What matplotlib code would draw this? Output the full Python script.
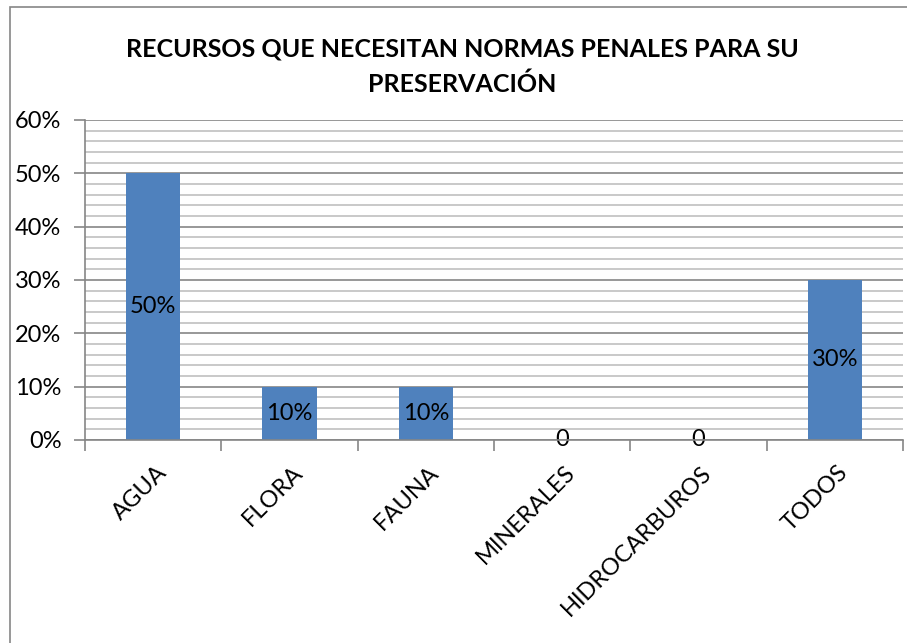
import matplotlib.pyplot as plt
import matplotlib.transforms as mtransforms
from matplotlib.patches import Rectangle
from matplotlib.ticker import MultipleLocator, PercentFormatter

categories = ['AGUA', 'FLORA', 'FAUNA', 'MINERALES', 'HIDROCARBUROS', 'TODOS']
values = [0.50, 0.10, 0.10, 0.0, 0.0, 0.30]
bar_labels = ['50%', '10%', '10%', '0', '0', '30%']
title = 'RECURSOS QUE NECESITAN NORMAS PENALES PARA SU\nPRESERVACIÓN'

plt.rcParams['font.family'] = ['Lato', 'DejaVu Sans']

fig = plt.figure(figsize=(9.07, 6.43), dpi=100)
W, H = 907, 643
FS = 17

# chart frame (only left and top visible in the reference)
fig.patches.append(Rectangle((10 / W, -0.1), 1.2, 1 - 7 / H + 0.1,
                             transform=fig.transFigure, fill=False,
                             edgecolor='#868686', linewidth=1.2))

ax = fig.add_axes([85 / W, 1 - 440 / H, (903 - 85) / W, (440 - 120) / H])

x = list(range(len(categories)))
ax.bar(x, values, width=0.4, color='#4F81BD', zorder=3)

for xi, v, lab in zip(x, values, bar_labels):
    ax.text(xi, v / 2, lab, ha='center', va='center', fontsize=FS,
            color='black', zorder=4)

ax.set_xlim(-0.5, len(categories) - 0.5)
ax.set_ylim(0, 0.6)
ax.yaxis.set_major_locator(MultipleLocator(0.1))
ax.yaxis.set_minor_locator(MultipleLocator(0.02))
ax.yaxis.set_major_formatter(PercentFormatter(1.0, decimals=0))
ax.grid(which='major', axis='y', color='#868686', linewidth=1.2, zorder=0)
ax.grid(which='minor', axis='y', color='#c0c0c0', linewidth=1.2, zorder=0)

ax.set_xticks([i - 0.5 for i in range(len(categories) + 1)], minor=False)
ax.set_xticklabels([])
ax.set_xticks(x, minor=True)
ax.set_xticklabels(categories, minor=True, rotation=45, ha='right',
                   va='center', rotation_mode='anchor', fontsize=FS)
ax.tick_params(axis='x', which='major', length=8, color='#868686', width=1.2)
ax.tick_params(axis='x', which='minor', length=0, pad=21)
ax.tick_params(axis='y', which='major', length=8, color='#868686', width=1.2,
               labelsize=FS, pad=9)
ax.tick_params(axis='y', which='minor', length=0)

offset = mtransforms.ScaledTranslation(10 / 100, 0, fig.dpi_scale_trans)
for lbl in ax.xaxis.get_minorticklabels():
    lbl.set_transform(lbl.get_transform() + offset)

for side in ['top', 'right']:
    ax.spines[side].set_visible(False)
for side in ['left', 'bottom']:
    ax.spines[side].set_color('#868686')
    ax.spines[side].set_linewidth(1.2)
    ax.spines[side].set_zorder(5)

fig.text(462 / W, 1 - 67 / H, title, ha='center', va='center', fontsize=18,
         fontweight='bold', linespacing=1.6)

fig.savefig('out.png', dpi=100)
